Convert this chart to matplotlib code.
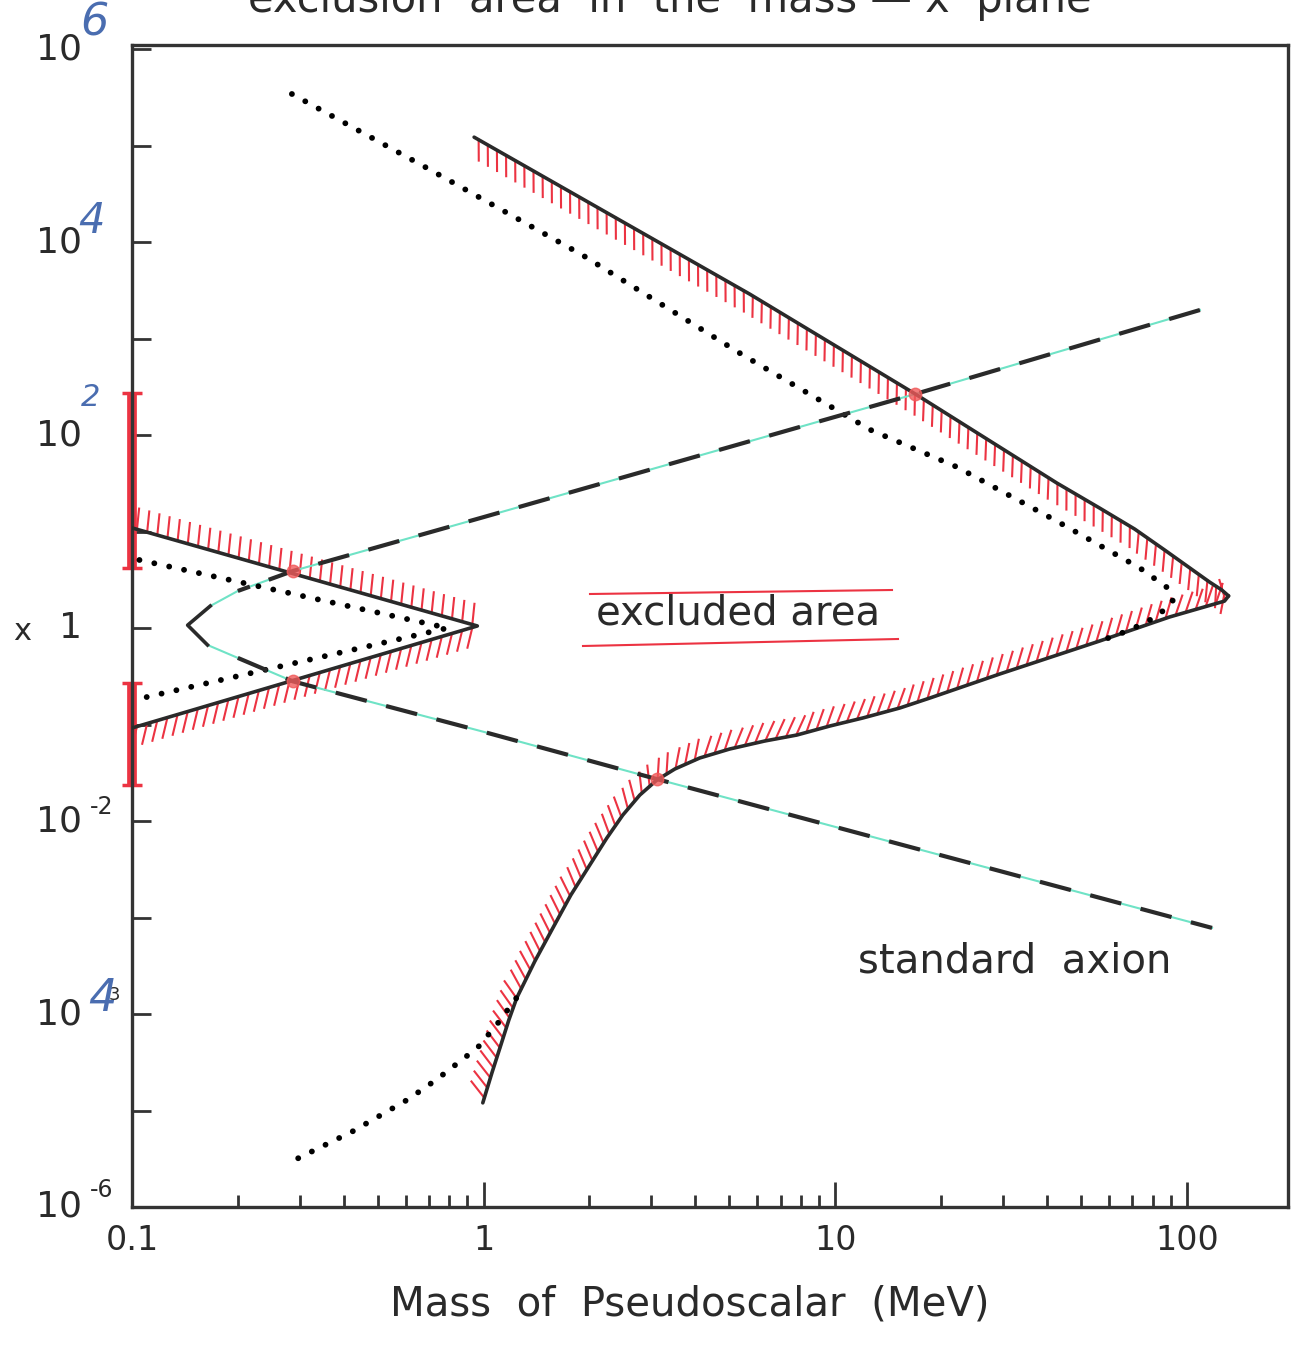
import matplotlib
matplotlib.use('Agg')
import matplotlib.pyplot as plt
import matplotlib.patheffects as pe
import matplotlib.transforms as mtransforms
from matplotlib.lines import Line2D
from matplotlib.ticker import LogLocator, NullLocator, NullFormatter

INK = '#2a2a2a'
RED = '#ec3342'
CYAN = '#6fe3c6'
BLUE = '#4a6db0'

# --- data (mass in MeV, x dimensionless) ---
# excluded-area boundary, upper arm (down to the nose near 130 MeV)
upper_m = [0.94, 5.71, 16.9, 42.7, 56.5, 71.1, 86.5, 102, 116, 125.7, 131.5]
upper_x = [1.22e5, 2890, 266, 31.8, 17.5, 10.6, 6.43, 4.19, 3.0, 2.48, 2.15]
# lower arm, from the nose back down to ~1 MeV
lower_m = [131.5, 128, 112, 89.3, 56.5, 29.4, 18.58, 15.27, 11.98, 9.66,
           7.78, 6.31, 5.01, 4.12, 3.50, 3.111, 2.782, 2.489, 2.242, 2.005,
           1.771, 1.574, 1.40, 1.243, 1.18, 1.12, 1.056, 0.995]
lower_x = [2.15, 1.9, 1.65, 1.30, 0.733, 0.334, 0.188, 0.1483, 0.1168, 0.0965,
           0.0778, 0.0675, 0.0557, 0.045, 0.0346, 0.0266, 0.01858, 0.01153,
           6.67e-3, 3.50e-3, 1.71e-3, 7.78e-4, 3.54e-4, 1.47e-4, 8.67e-5,
           4.78e-5, 2.45e-5, 1.20e-5]

# small V at low mass
vee_m = [0.1, 0.96, 0.1]
vee_x = [10.9, 1.05, 0.092]

# dotted curves
dvee_m = [0.105, 0.79, 0.107]
dvee_x = [5.07, 1.0, 0.188]
dot_up_m = [0.285, 0.69, 1.91, 5.46, 12.6, 22.2, 42.7, 73.5, 88.3, 91.3,
            82.6, 68.8, 56.5]
dot_up_x = [3.42e5, 5.85e4, 7330, 675, 113, 46.6, 12.8, 4.19, 2.6, 1.9,
            1.33, 0.95, 0.73]
dot_lo_m = [0.297, 0.425, 0.609, 0.736, 0.963, 1.10, 1.17, 1.27]
dot_lo_x = [3.2e-6, 6.1e-6, 1.3e-5, 2.1e-5, 4.5e-5, 8.1e-5, 1.1e-4, 1.65e-4]

# standard axion line (upper branch -> nose -> lower branch)
axion_m = [109, 16.9, 1.0, 0.287, 0.2, 0.167, 0.144, 0.164, 0.2, 0.287,
           1.0, 3.11, 118]
axion_x = [1975, 266, 14.1, 3.9, 2.42, 1.69, 1.07, 0.667, 0.49, 0.28,
           0.084, 0.0272, 7.8e-4]

# red marks on the x axis at m = 0.1
bar_lo = [4.2, 0.0236]
bar_hi = [270, 0.27]

# crossing points marked in red
cross_m = [0.287, 0.287, 16.9, 3.11]
cross_x = [3.9, 0.28, 266, 0.0272]

ylab_vals = [1e6, 1e4, 1e2, 1, 1e-2, 1e-4, 1e-6]
xlab_vals = [0.1, 1, 10, 100]
xlab_text = ['0.1', '1', '10', '100']

fig = plt.figure(figsize=(13.04, 13.48), dpi=100)
ax = fig.add_axes([0.1012, 0.1046, 0.8865, 0.862])
ax.set_xscale('log')
ax.set_yscale('log')
ax.set_xlim(0.1, 194)
ax.set_ylim(1e-6, 1.1e6)


def hatch(m, x, ang):
    ax.plot(m, x, color=RED, lw=1.5, zorder=2,
            path_effects=[pe.TickedStroke(spacing=7.5, angle=ang, length=2.0)])


# hatching on the excluded side
hatch(upper_m, upper_x, -60)
hatch(lower_m, lower_x, -125)
hatch(vee_m[:2], vee_x[:2], 100)
hatch(vee_m[1:], vee_x[1:], 60)

# boundaries
ax.plot(upper_m, upper_x, color=INK, lw=2.6, zorder=3, solid_capstyle='round')
ax.plot(lower_m, lower_x, color=INK, lw=2.6, zorder=3, solid_capstyle='round')
ax.plot(vee_m, vee_x, color=INK, lw=2.6, zorder=3)

# dotted curves
for m, x in [(dvee_m, dvee_x), (dot_up_m, dot_up_x), (dot_lo_m, dot_lo_x)]:
    ax.plot(m, x, color='black', lw=4.2, dashes=(0.01, 2.6),
            dash_capstyle='round', zorder=3)

# standard axion
ax.plot(axion_m, axion_x, color=CYAN, lw=1.5, zorder=2.5)
ax.plot(axion_m[5:8], axion_x[5:8], color=INK, lw=2.6, zorder=3)
ax.plot(axion_m[:5], axion_x[:5], color=INK, lw=3.0, dashes=(7.7, 4.8),
        dash_capstyle='butt', zorder=3)
ax.plot(axion_m[8:], axion_x[8:], color=INK, lw=3.0, dashes=(7.7, 4.8),
        dash_capstyle='butt', zorder=3)

ax.plot(cross_m, cross_x, 'o', color='#f05a5a', alpha=0.8, ms=9, zorder=4)

# red marker bars on the left axis
for lo, hi in zip(bar_lo, bar_hi):
    ax.plot([0.1, 0.1], [lo, hi], color=RED, lw=7, solid_capstyle='butt',
            clip_on=False, zorder=2)
    ax.plot([0.1, 0.1], [lo, hi], '_', color=RED, ms=14, mew=2.5,
            clip_on=False, zorder=2)

# axes styling
for s in ax.spines.values():
    s.set_linewidth(2.4)
    s.set_color('#333333')
    s.set_zorder(2.6)

ax.set_yticks([10.0 ** k for k in range(-6, 7)])
ax.set_yticklabels([])
ax.yaxis.set_minor_locator(NullLocator())
ax.set_xticks(xlab_vals, labels=xlab_text)
ax.xaxis.set_minor_locator(LogLocator(base=10, subs=range(2, 10)))
ax.xaxis.set_minor_formatter(NullFormatter())
ax.tick_params(which='both', direction='in', width=2, color='#333333')
ax.tick_params(axis='x', which='major', length=18, labelsize=24,
               pad=12, labelcolor=INK)
ax.tick_params(axis='x', which='minor', length=8.5)
ax.tick_params(axis='y', which='major', length=14)

# y labels: printed "10" with exponents (some re-written by hand in blue)
yt = mtransforms.blended_transform_factory(fig.transFigure, ax.transData)
ybase = 82 / 1304
for v in ylab_vals:
    ax.text(ybase, v, '1' if v == 1 else '10', transform=yt, ha='right',
            va='center', fontsize=26, color=INK, clip_on=False)

exps = [(1e6, '6', 9, 19, 32, BLUE, 'italic'),
        (1e4, '4', 6.5, 15, 30, BLUE, 'italic'),
        (1e2, '2', 6, 27, 22, BLUE, 'italic'),
        (1e-2, '-2', 14.4, 10, 17, INK, 'normal'),
        (1e-4, '3', 23, 14, 13, INK, 'normal'),
        (1e-4, '4', 14.4, 11, 32, BLUE, 'italic'),
        (1e-6, '-6', 14.4, 12, 17, INK, 'normal')]
for v, t, dx, dy, fs, c, st in exps:
    ax.annotate(t, xy=(ybase, v), xycoords=yt, xytext=(dx, dy),
                textcoords='offset points', ha='center', va='center',
                fontsize=fs, color=c, style=st, annotation_clip=False)

fig.text(22 / 1304, 1 - 632 / 1348, 'x', fontsize=22, color=INK,
         ha='center', va='center')

# texts
fig.text(0.514, 0.991, 'exclusion  area  in  the  mass \u2014 x  plane',
         fontsize=30, color=INK, ha='center', va='baseline')
fig.text(0.566, 0.5452, 'excluded area', fontsize=29, color=INK,
         ha='center', va='center')
fig.text(0.778, 0.2864, 'standard  axion', fontsize=29, color=INK,
         ha='center', va='center')
fig.text(0.529, 0.0319, 'Mass  of  Pseudoscalar  (MeV)', fontsize=29,
         color=INK, ha='center', va='center')

# red lines above and below "excluded area"
fig.add_artist(Line2D([590 / 1304, 892 / 1304], [1 - 594 / 1348, 1 - 590 / 1348],
                      color=RED, lw=1.5))
fig.add_artist(Line2D([583 / 1304, 898 / 1304], [1 - 646 / 1348, 1 - 639 / 1348],
                      color=RED, lw=1.5))

fig.savefig('out.png', dpi=100, facecolor='white')
